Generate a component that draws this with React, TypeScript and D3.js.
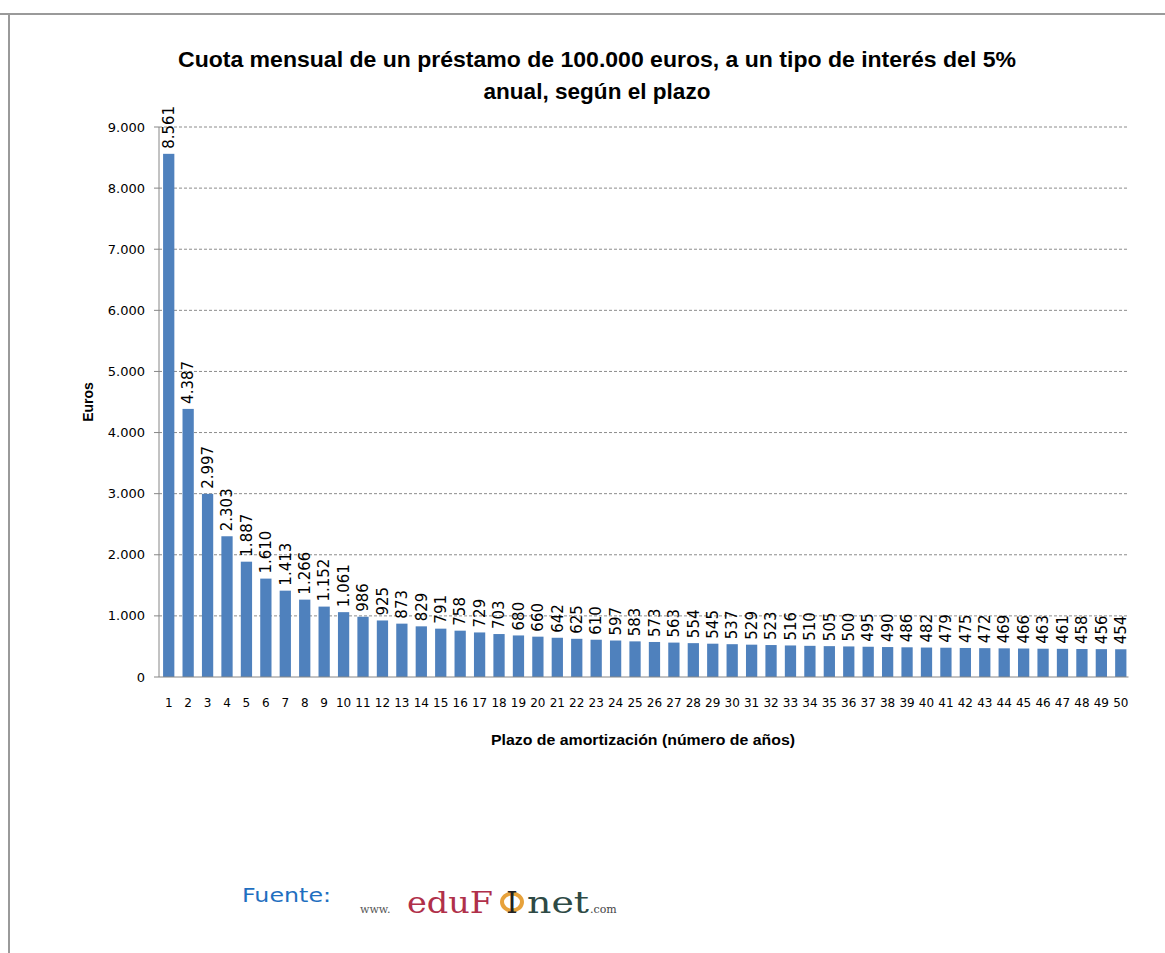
import React from "react";
import * as d3 from "d3";

const years: number[] = Array.from({ length: 50 }, (_, i) => i + 1);
const cuota: number[] = [
  8561, 4387, 2997, 2303, 1887, 1610, 1413, 1266, 1152, 1061,
  986, 925, 873, 829, 791, 758, 729, 703, 680, 660,
  642, 625, 610, 597, 583, 573, 563, 554, 545, 537,
  529, 523, 516, 510, 505, 500, 495, 490, 486, 482,
  479, 475, 472, 469, 466, 463, 461, 458, 456, 454,
];
const yTicks: number[] = [0, 1000, 2000, 3000, 4000, 5000, 6000, 7000, 8000, 9000];

const titleLine1 = "Cuota mensual de un préstamo de 100.000 euros, a un tipo de interés del 5%";
const titleLine2 = "anual, según el plazo";
const xTitle = "Plazo de amortización  (número de años)";
const yTitle = "Euros";

const fmt = (v: number) => d3.format(",")(v).replace(/,/g, ".");

export default function App() {
  const W = 1165, H = 953;
  const left = 159, right = 1130.5, top = 127, bottom = 677;
  const x = d3.scaleBand<number>().domain(years).range([left, right]).paddingInner(0.42).paddingOuter(0.21);
  const y = d3.scaleLinear().domain([0, 9000]).range([bottom, top]);
  const sans = "'DejaVu Sans', Verdana, sans-serif";
  const cal = "'Liberation Sans', Arial, sans-serif";
  return (
    <svg width={W} height={H} style={{ position: "absolute", left: 0, top: 0 }}>
      <rect x={0} y={0} width={W} height={H} fill="#fff" />
      {/* frame */}
      <line x1={0} x2={W} y1={14} y2={14} stroke="#9a9a9a" strokeWidth={2} />
      <line x1={9} x2={9} y1={14} y2={H} stroke="#9a9a9a" strokeWidth={2} />
      {/* title */}
      <text x={597} y={67} textAnchor="middle" fontFamily={cal} fontWeight="bold" fontSize={22}
        textLength={838} lengthAdjust="spacingAndGlyphs" fill="#000">{titleLine1}</text>
      <text x={597} y={99} textAnchor="middle" fontFamily={cal} fontWeight="bold" fontSize={22}
        textLength={227} lengthAdjust="spacingAndGlyphs" fill="#000">{titleLine2}</text>
      {/* gridlines */}
      {yTicks.filter(t => t > 0).map(t => (
        <line key={"g" + t} x1={left} x2={1128} y1={y(t)} y2={y(t)} stroke="#8c8c8c" strokeWidth={1} strokeDasharray="3,2" />
      ))}
      {/* y axis */}
      <line x1={left} x2={left} y1={top} y2={bottom} stroke="#868686" strokeWidth={1} />
      {yTicks.map(t => (
        <g key={"t" + t}>
          <line x1={left - 5} x2={left} y1={y(t)} y2={y(t)} stroke="#868686" />
          <text x={left - 14} y={y(t)} dy="0.35em" textAnchor="end" fontFamily={sans} fontSize={13} fill="#000">{fmt(t)}</text>
        </g>
      ))}
      {/* bars */}
      {cuota.map((v, i) => (
        <rect key={"b" + i} x={x(years[i])!} y={y(v)} width={x.bandwidth()} height={bottom - y(v)} fill="#4F81BD" />
      ))}
      {/* x axis */}
      <line x1={left} x2={right - 2} y1={bottom} y2={bottom} stroke="#868686" strokeWidth={1} />
      {years.map(yr => (
        <text key={"x" + yr} x={x(yr)! + x.bandwidth() / 2} y={707} textAnchor="middle" fontFamily={sans} fontSize={12} fill="#000">{yr}</text>
      ))}
      {/* data labels */}
      {cuota.map((v, i) => {
        const cx = x(years[i])! + x.bandwidth() / 2;
        const cy = y(v) - 5;
        return (
          <text key={"l" + i} transform={`translate(${cx},${cy}) rotate(-90)`} dy="0.35em" textAnchor="start"
            fontFamily={sans} fontSize={15} fill="#000">{fmt(v)}</text>
        );
      })}
      {/* axis titles */}
      <text x={643} y={745} textAnchor="middle" fontFamily={cal} fontWeight="bold" fontSize={14}
        textLength={304} lengthAdjust="spacingAndGlyphs" fill="#000">{xTitle}</text>
      <text transform={`translate(93,402) rotate(-90)`} textAnchor="middle" fontFamily={cal} fontWeight="bold" fontSize={14} fill="#000">{yTitle}</text>
      {/* source */}
      <text x={242} y={902} fontFamily={sans} fontSize={20} fill="#1F6FC0" textLength={89} lengthAdjust="spacingAndGlyphs">Fuente:</text>
      <g fontFamily="'DejaVu Serif', 'Liberation Serif', serif">
        <text x={360} y={913} fontSize={11} fill="#555">www.</text>
        <text x={407} y={913} fontSize={29} fill="#B0304A" textLength={86} lengthAdjust="spacingAndGlyphs">eduF</text>
        <ellipse cx={512} cy={902} rx={10} ry={8.5} fill="none" stroke="#E7A23B" strokeWidth={4} />
        <text x={512} y={913} fontSize={29} fill="#222" textAnchor="middle">I</text>
        <text x={527} y={913} fontSize={29} fill="#2E4A45" textLength={62} lengthAdjust="spacingAndGlyphs">net</text>
        <text x={590} y={913} fontSize={11} fill="#444">.com</text>
      </g>
    </svg>
  );
}
